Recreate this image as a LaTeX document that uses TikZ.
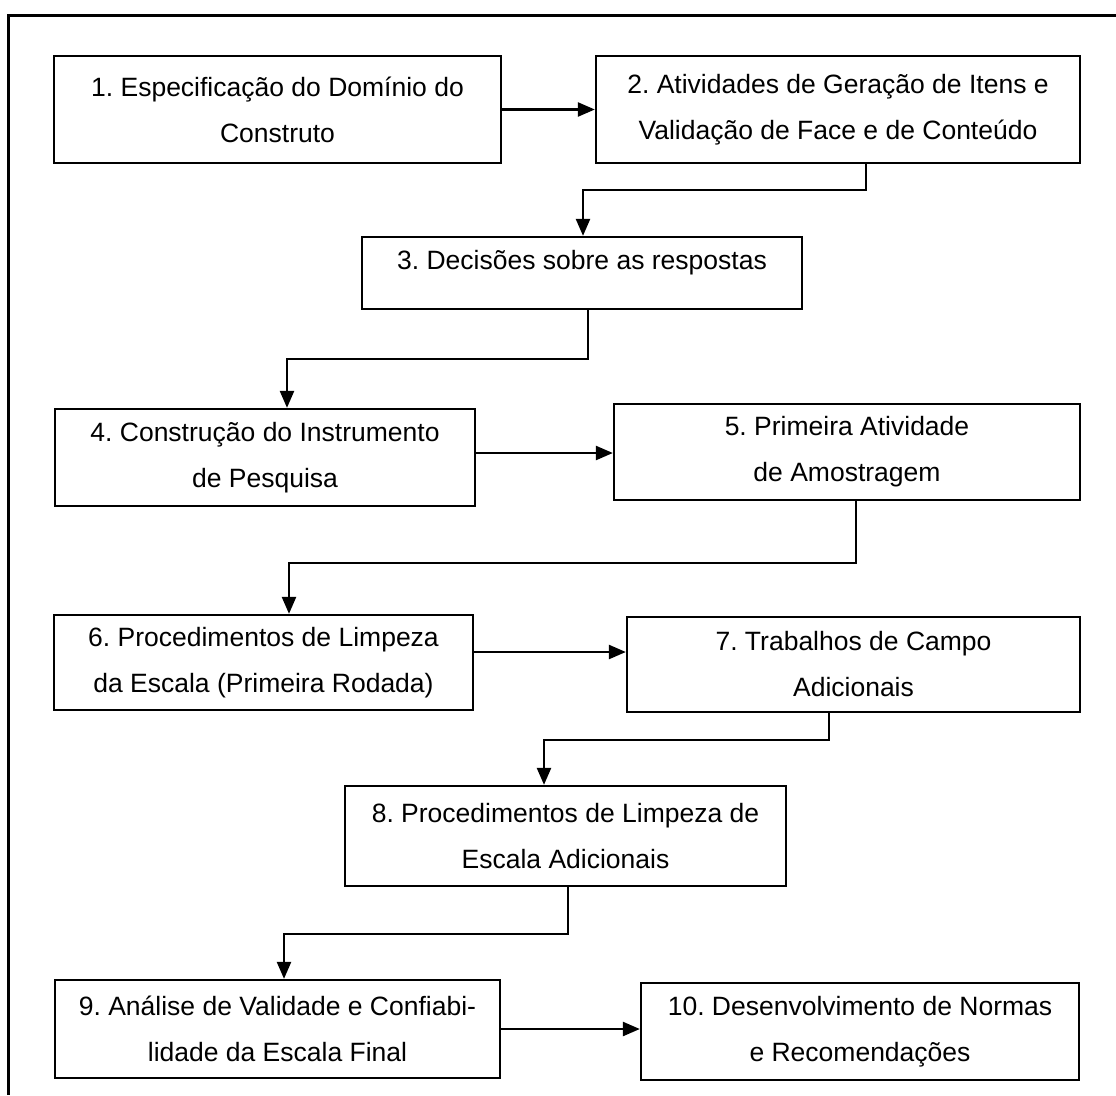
\documentclass[tikz,border=0pt]{standalone}
\usepackage{fontspec}
\setmainfont{Liberation Sans}
\usetikzlibrary{arrows.meta,calc}
\frenchspacing

\tikzset{
  stepbox/.style={draw=black, line width=2.3pt, fill=white, inner sep=0pt,
    align=center, font=\fontsize{26.5}{46}\selectfont, text=black},
  link/.style={draw=black, line width=2.4pt,
    -{Triangle[length=17pt,width=14pt]}},
  frameline/.style={draw=black, line width=3pt}
}

\begin{document}
\begin{tikzpicture}[x=1pt, y=-1pt]
  \useasboundingbox (0,0) rectangle (1116,1095);

  % outer frame (top and left edges)
  \draw[frameline] (1116,15) -- (8,15) -- (8,1095);

  % process steps
  \node[stepbox, minimum width=447pt, minimum height=107pt] (b1) at (277.5,109.5)
    {1. Especificação do Domínio do\\Construto};
  \node[stepbox, minimum width=484pt, minimum height=107pt] (b2) at (838,109.5)
    {2. Atividades de Geração de Itens e\\Validação de Face e de Conteúdo};
  \node[stepbox, minimum width=440pt, minimum height=72pt] (b3) at (582,273) {};
  \node[font=\fontsize{26.5}{46}\selectfont, inner sep=0pt] (t3) at (582,263)
    {3. Decisões sobre as respostas};
  \node[stepbox, minimum width=420pt, minimum height=97pt] (b4) at (265,457.5)
    {4. Construção do Instrumento\\de Pesquisa};
  \node[stepbox, minimum width=466pt, minimum height=96pt] (b5) at (847,452)
    {5. Primeira Atividade\\de Amostragem};
  \node[stepbox, minimum width=419pt, minimum height=95pt] (b6) at (263.5,662.5)
    {6. Procedimentos de Limpeza\\da Escala (Primeira Rodada)};
  \node[stepbox, minimum width=453pt, minimum height=95pt] (b7) at (853.5,664.5)
    {7. Trabalhos de Campo\\Adicionais};
  \node[stepbox, minimum width=441pt, minimum height=100pt] (b8) at (565.5,836)
    {8. Procedimentos de Limpeza de\\Escala Adicionais};
  \node[stepbox, minimum width=445pt, minimum height=98pt] (b9) at (277.5,1029)
    {9. Análise de Validade e Confiabi-\\lidade da Escala Final};
  \node[stepbox, minimum width=438pt, minimum height=97pt] (b10) at (860,1031.5)
    {10. Desenvolvimento de Normas\\e Recomendações};

  % connectors
  \draw[link] (b1.east) -- (b2.west);
  \draw[link] ([xshift=28pt]b2.south) -- ++(0,26) -| ([xshift=1pt]b3.north);
  \draw[link] ([xshift=6pt]b3.south) -- ++(0,49) -| ([xshift=22pt]b4.north);
  \draw[link] ($(b4.east)+(0,-4.5)$) -- ($(b4.east -| b5.west)+(0,-4.5)$);
  \draw[link] ([xshift=9pt]b5.south) -- ++(0,62) -| ([xshift=25.5pt]b6.north);
  \draw[link] ($(b6.east)+(0,-10.5)$) -- ($(b6.east -| b7.west)+(0,-10.5)$);
  \draw[link] ([xshift=-24.5pt]b7.south) -- ++(0,27) -| ([xshift=-21.5pt]b8.north);
  \draw[link] ([xshift=2.5pt]b8.south) -- ++(0,47) -| ([xshift=6.5pt]b9.north);
  \draw[link] (b9.east) -- (b9.east -| b10.west);
\end{tikzpicture}
\end{document}
